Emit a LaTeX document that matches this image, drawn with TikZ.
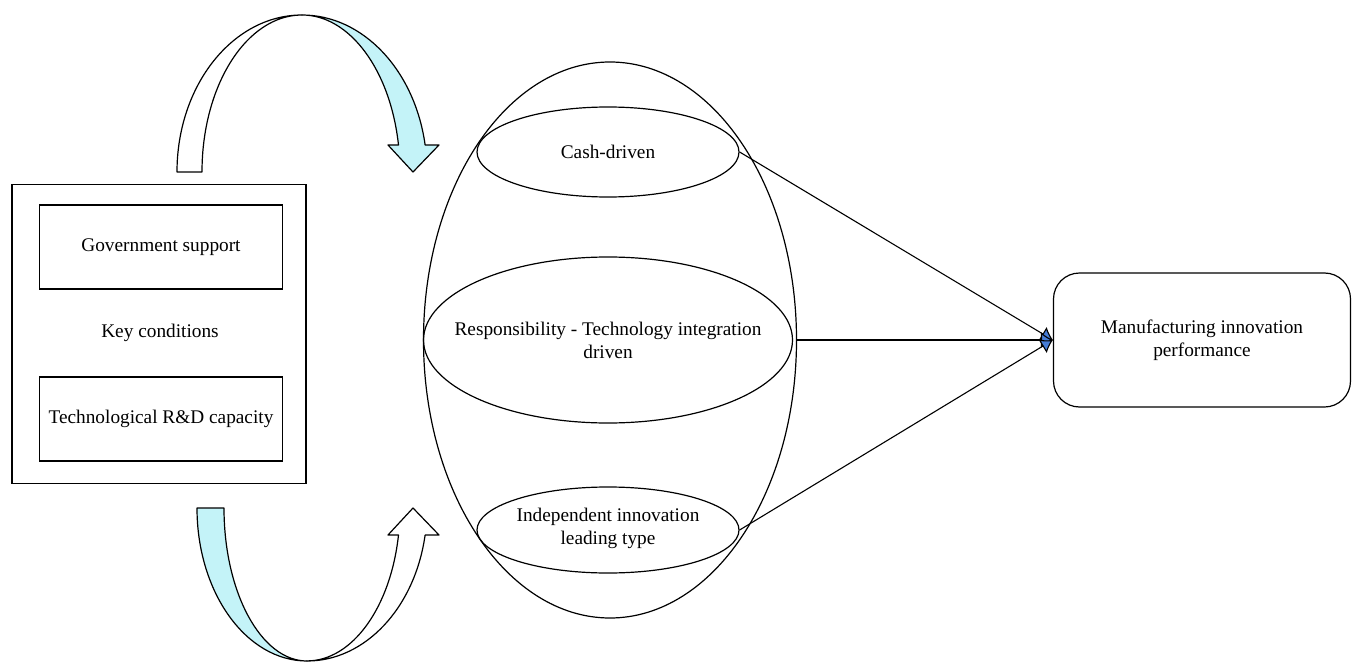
\documentclass[tikz,border=0pt]{standalone}
\usepackage{fontspec}
\setmainfont{Liberation Serif}
\usetikzlibrary{shapes.geometric,arrows.meta}
\definecolor{ribbon}{RGB}{196,243,248}
\definecolor{tipblue}{RGB}{70,125,215}
\tikzset{
  lbl/.style={font=\fontsize{19.3}{23}\selectfont, align=center, text=black},
  oval/.style={draw, ellipse, line width=1.2pt, inner sep=0pt},
  sqbox/.style={draw, line width=1.1pt, inner sep=0pt},
  conn/.style={line width=1.1pt, -{Latex[length=12pt,width=16pt,fill=tipblue]}},
  band/.style={draw, line width=1.2pt, line join=round}
}
\begin{document}
\begin{tikzpicture}[x=1pt,y=-1pt]
\useasboundingbox (0,0) rectangle (1354,663);
% left box
\node[sqbox, line width=1.3pt, minimum width=294pt, minimum height=299pt] (keybox) at (159,334) {};
\node[sqbox, minimum width=243pt, minimum height=84pt, lbl] (gov) at (161,247) {Government support};
\node[lbl] (key) at (160,333) {Key conditions};
\node[sqbox, minimum width=243pt, minimum height=84pt, lbl] (tech) at (161,419) {Technological R\&D capacity};
% top curved arrow
\path[band, fill=white] (177,172) arc[start angle=180, end angle=270, x radius=125, y radius=157]
  arc[start angle=270, end angle=180, x radius=100, y radius=157] -- cycle;
\path[band, fill=ribbon] (302,15) arc[start angle=-90, end angle=-9.9, x radius=125, y radius=157]
  -- (439,145) -- (413,172) -- (388,145) -- (398.5,145)
  arc[start angle=-9.9, end angle=-90, x radius=98, y radius=157] -- cycle;
% bottom curved arrow
\path[band, fill=ribbon] (197,508) arc[start angle=180, end angle=90, x radius=110, y radius=153]
  arc[start angle=90, end angle=180, x radius=83, y radius=153] -- cycle;
\path[band, fill=white] (307,661) arc[start angle=90, end angle=10.2, x radius=120, y radius=153]
  -- (439,535) -- (413,508) -- (388,535) -- (398.5,535)
  arc[start angle=10.2, end angle=90, x radius=93, y radius=153] -- cycle;
% ellipses
\node[oval, minimum width=373pt, minimum height=556pt] (big) at (610,340) {};
\node[oval, minimum width=262pt, minimum height=90pt] (cash) at (608,152) {};
\node[lbl] (cashtext) at (cash) {Cash-driven};
\node[oval, minimum width=369pt, minimum height=166pt] (resp) at (608,340) {};
\node[lbl] (resptext) at (resp) {Responsibility - Technology integration\\driven};
\node[oval, minimum width=262pt, minimum height=86pt] (indep) at (608,530) {};
\node[lbl] (indeptext) at (608,528) {Independent innovation\\leading type};
% right box
\node[draw, line width=1.2pt, rounded corners=26pt, minimum width=297pt, minimum height=134pt, lbl] (perf) at (1202,340) {Manufacturing innovation\\performance};
% connectors
\draw[conn] (cash.east) -- (perf.west);
\draw[conn] (big.east) -- (perf.west);
\draw[conn] (indep.east) -- (perf.west);
\end{tikzpicture}
\end{document}
